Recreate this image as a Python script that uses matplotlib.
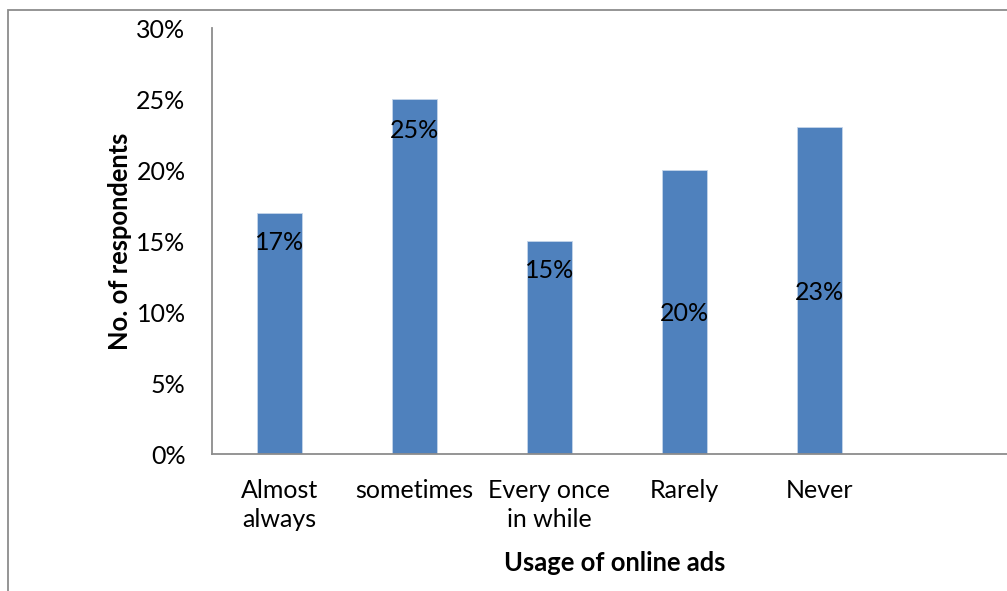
import numpy as np
import matplotlib.pyplot as plt
from matplotlib.patches import Rectangle
from matplotlib.ticker import FuncFormatter

# survey results: how often respondents use online ads
categories = ["Almost\nalways", "sometimes", "Every once\nin while", "Rarely", "Never"]
shares = [17, 25, 15, 20, 23]
# heights (in %) where the value labels sit inside each bar
label_heights = [14.9, 22.8, 12.9, 9.9, 11.4]

plt.rcParams['font.family'] = ['Lato', 'DejaVu Sans']

fig = plt.figure(figsize=(10.07, 5.91), dpi=100)
ax = fig.add_axes([0.2105, 0.2318, 0.7895, 0.7208])

x = np.arange(len(categories))
ax.bar(x, shares, width=0.333, color='#4F81BD', edgecolor='#C5D5EA', linewidth=0.6)

for xi, v, h in zip(x, shares, label_heights):
    ax.text(xi, h, f"{v}%", ha='center', va='center', fontsize=18, color='black')

ax.set_xlim(-0.5, 5.389)
ax.set_ylim(0, 30)
ax.set_yticks(np.arange(0, 31, 5))
ax.yaxis.set_major_formatter(FuncFormatter(lambda v, p: f"{v:.0f}%"))
ax.set_xticks(x)
ax.set_xticklabels(categories, linespacing=1.32)
ax.tick_params(axis='both', length=0, labelsize=18)
ax.tick_params(axis='y', pad=19)
ax.tick_params(axis='x', pad=18)

for side in ('top', 'right'):
    ax.spines[side].set_visible(False)
for side in ('left', 'bottom'):
    ax.spines[side].set_color('#8C8C8C')
    ax.spines[side].set_linewidth(1.3)

ax.set_ylabel("No. of respondents", fontsize=18.4, fontweight='bold')
ax.set_xlabel("Usage of online ads", fontsize=18.4, fontweight='bold')
ax.yaxis.set_label_coords(-0.1, 0.5)
ax.xaxis.set_label_coords(0.507, -0.228)

# chart area border (only top and left edges fall inside the image)
fig.patches.append(Rectangle((8 / 1007, -0.1), 1.2, 1.1 - 10 / 591,
                             transform=fig.transFigure, fill=False,
                             edgecolor='#8C8C8C', linewidth=1.3))

fig.savefig("out.png", dpi=100)
